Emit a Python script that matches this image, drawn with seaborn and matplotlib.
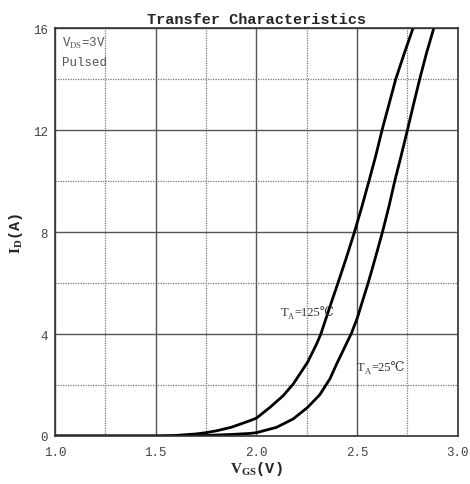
import numpy as np
import pandas as pd
import matplotlib
matplotlib.use("Agg")
import matplotlib.pyplot as plt
import seaborn as sns
from matplotlib.ticker import MultipleLocator

sns.set_theme(style="white")
plt.rcParams['font.family'] = ['Liberation Mono', 'DejaVu Sans']
plt.rcParams['mathtext.fontset'] = 'custom'
plt.rcParams['mathtext.rm'] = 'Liberation Serif'
plt.rcParams['mathtext.bf'] = 'Liberation Serif:bold'

# data
vgs_125 = [1.0, 1.5, 1.6, 1.7, 1.75, 1.8, 1.875, 1.968, 2.0, 2.067, 2.133, 2.183,
           2.254, 2.299, 2.32, 2.362, 2.405, 2.447, 2.487, 2.524, 2.559, 2.593,
           2.624, 2.658, 2.692, 2.734, 2.778]
id_125 = [0.0, 0.0, 0.02, 0.08, 0.13, 0.2, 0.34, 0.6, 0.7, 1.12, 1.58, 2.04,
          2.89, 3.61, 4.0, 5.0, 6.0, 7.0, 8.0, 9.0, 10.0, 11.0,
          12.0, 13.0, 14.0, 15.0, 16.0]
vgs_25 = [1.0, 1.6, 1.75, 1.875, 1.968, 2.0, 2.1, 2.183, 2.254, 2.315, 2.365,
          2.4, 2.472, 2.502, 2.53, 2.555, 2.591, 2.626, 2.658, 2.687, 2.719,
          2.75, 2.78, 2.811, 2.844, 2.881]
id_25 = [0.0, 0.0, 0.02, 0.06, 0.1, 0.13, 0.34, 0.67, 1.12, 1.62, 2.24,
         2.85, 4.03, 4.65, 5.37, 6.0, 7.0, 8.0, 9.0, 10.0, 11.0,
         12.0, 13.0, 14.0, 15.0, 16.0]
x_ticks = [1.0, 1.5, 2.0, 2.5, 3.0]
y_ticks = [0, 4, 8, 12, 16]

df = pd.concat([
    pd.DataFrame({"VGS": vgs_125, "ID": id_125, "T": "125"}),
    pd.DataFrame({"VGS": vgs_25, "ID": id_25, "T": "25"}),
])

fig = plt.figure(figsize=(4.7, 4.85), dpi=100)
ax = fig.add_axes([0.117, 0.099, 0.857, 0.841])

sns.lineplot(data=df, x="VGS", y="ID", units="T", estimator=None, sort=False,
             color="black", linewidth=2.0, ax=ax, legend=False)
for l in ax.lines:
    l.set_solid_joinstyle("round")

ax.set_xlim(1.0, 3.0)
ax.set_ylim(0, 16)
ax.set_xticks(x_ticks)
ax.set_xticklabels([f"{v:.1f}" for v in x_ticks])
ax.set_yticks(y_ticks)
ax.set_yticklabels([str(v) for v in y_ticks])
ax.xaxis.set_minor_locator(MultipleLocator(0.25))
ax.yaxis.set_minor_locator(MultipleLocator(2))
ax.grid(which="major", color="#555555", linewidth=1.0, linestyle="-")
ax.grid(which="minor", color="#777777", linewidth=0.9, linestyle=(0, (1, 1)))
ax.tick_params(which="both", length=0, labelsize=9, colors="#444444")
ax.tick_params(axis="x", pad=7)
ax.tick_params(axis="y", pad=5)
for s in ax.spines.values():
    s.set_color("#333333")
    s.set_linewidth(1.2)

ax.set_title("Transfer Characteristics", fontsize=11, fontweight="bold", pad=4)
ax.set_xlabel(r"$\mathbf{V_{GS}}$(V)", fontsize=11, fontweight="bold", labelpad=1)
ax.set_ylabel(r"$\mathbf{I_D}$(A)", fontsize=11, fontweight="bold", labelpad=6)

ax.text(1.035, 15.45, r"V$_{\rm DS}$=3V", fontsize=9, color="#555555", va="center")
ax.text(1.035, 14.67, "Pulsed", fontsize=9, color="#555555", va="center")

serif = ['Liberation Serif', 'DejaVu Serif', 'DejaVu Sans']


def temp_label(x, y, rest):
    ax.annotate("T", (x, y), fontsize=9, color="#333333", va="center",
                family=serif)
    ax.annotate("A", (x, y), xytext=(5.6, -2.5), textcoords="offset points",
                fontsize=6, color="#333333", va="center", family=serif)
    ax.annotate(rest, (x, y), xytext=(10.0, 0), textcoords="offset points",
                fontsize=9, color="#333333", va="center", family=serif)


temp_label(2.12, 4.86, "=125℃")
temp_label(2.5, 2.7, "=25℃")

fig.savefig("out.png", dpi=100)
